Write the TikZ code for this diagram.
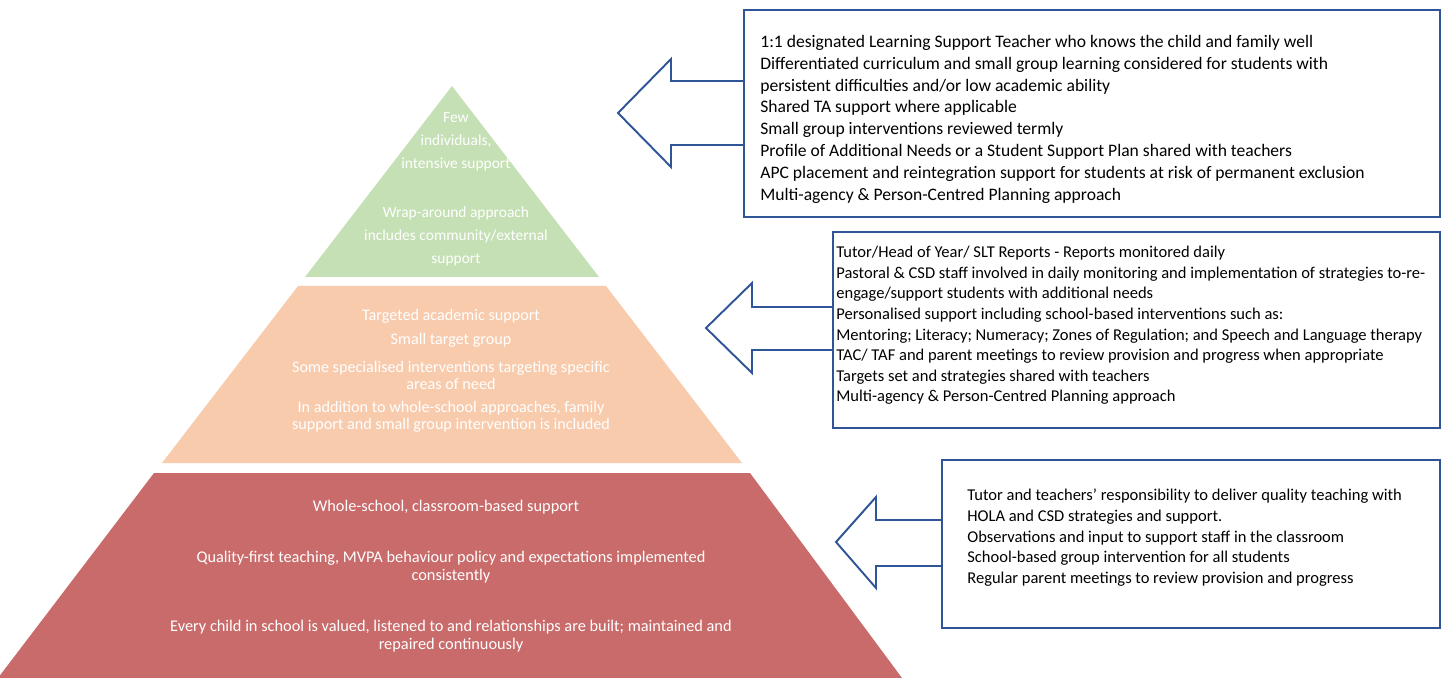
\documentclass[tikz,border=0pt]{standalone}
\usepackage{fontspec}
\setmainfont{Carlito}
\definecolor{tipgreen}{HTML}{C5E0B4}
\definecolor{midpeach}{HTML}{F8CBAD}
\definecolor{baserose}{HTML}{C96B6A}
\definecolor{calloutblue}{HTML}{2F5597}
% layer corners (pixel units, y down)
\newcommand{\apex}[0]{(452, 86)}
\newcommand{\tipl}[0]{(305, 277)}
\newcommand{\tipr}[0]{(599, 277)}
\newcommand{\midul}[0]{(298, 286)}
\newcommand{\midur}[0]{(606, 286)}
\newcommand{\midll}[0]{(162, 463)}
\newcommand{\midlr}[0]{(742, 463)}
\newcommand{\baseul}[0]{(154, 473)}
\newcommand{\baseur}[0]{(750, 473)}
\newcommand{\basell}[0]{(-2, 678)}
\newcommand{\baselr}[0]{(902, 678)}
\tikzset{
  layertext/.style={text=white, align=center, inner sep=0pt},
  boxtext/.style={align=left, anchor=north west, inner sep=0pt},
  callout/.style={draw=calloutblue, line width=1.1pt, line join=miter},
}

\begin{document}
\begin{tikzpicture}[x=0.02cm, y=-0.02cm]
\useasboundingbox (0,0) rectangle (1446,678);
% pyramid
\fill [tipgreen] \apex{} -- \tipr{} -- \tipl{} -- cycle;
\fill [midpeach] \midul{} -- \midur{} -- \midlr{} -- \midll{} -- cycle;
\fill [baserose] \baseul{} -- \baseur{} -- \baselr{} -- \basell{} -- cycle;

\node [layertext, font=\fontsize{8.8}{13.1}\selectfont] (few) at (456,142) {Few\\individuals,\\intensive support};
\node [layertext, font=\fontsize{8.8}{13.1}\selectfont] (wrap) at (456,236) {Wrap-around approach\\includes community/external\\support};

\node [layertext, font=\fontsize{9.2}{9.7}\selectfont] (targeted) at (451,316) {Targeted academic support};
\node [layertext, font=\fontsize{9.2}{9.7}\selectfont] (small) at (451,340) {Small target group};
\node [layertext, font=\fontsize{9.2}{9.7}\selectfont] (special) at (451,375) {Some specialised interventions targeting specific\\areas of need};
\node [layertext, font=\fontsize{9.2}{9.7}\selectfont] (addition) at (451,417) {In addition to whole-school approaches, family\\support and small group intervention is included};

\node [layertext, font=\fontsize{9.3}{10.2}\selectfont] (whole) at (446,507) {Whole-school, classroom-based support};
\node [layertext, font=\fontsize{9.3}{10.2}\selectfont] (quality) at (451,567) {Quality-first teaching, MVPA behaviour policy and expectations implemented\\consistently};
\node [layertext, font=\fontsize{9.3}{10.2}\selectfont] (every) at (451,636) {Every child in school is valued, listened to and relationships are built; maintained and\\repaired continuously};

% callouts
\draw [callout] (744,10) rectangle (1440,217);
\draw [callout] (744,81) -- (671,81) -- (671,59) -- (618,113) -- (671,167) -- (671,145) -- (744,145);
\node [boxtext, font=\fontsize{10}{12.4}\selectfont] (tiertop) at (760,35) {1:1 designated Learning Support Teacher who knows the child and family well\\
Differentiated curriculum and small group learning considered for students with\\
persistent difficulties and/or low academic ability\\
Shared TA support where applicable\\
Small group interventions reviewed termly\\
Profile of Additional Needs or a Student Support Plan shared with teachers\\
APC placement and reintegration support for students at risk of permanent exclusion\\
Multi-agency \& Person-Centred Planning approach};

\draw [callout] (833,232) rectangle (1440,428);
\draw [callout] (833,307) -- (752,307) -- (752,283) -- (706,328) -- (752,373) -- (752,350) -- (833,350);
\node [boxtext, font=\fontsize{9.4}{11.7}\selectfont] (tiermid) at (836,246) {Tutor/Head of Year/ SLT Reports - Reports monitored daily\\
Pastoral \& CSD staff involved in daily monitoring and implementation of strategies to-re-\\
engage/support students with additional needs\\
Personalised support including school-based interventions such as:\\
Mentoring; Literacy; Numeracy; Zones of Regulation; and Speech and Language therapy\\
TAC/ TAF and parent meetings to review provision and progress when appropriate\\
Targets set and strategies shared with teachers\\
Multi-agency \& Person-Centred Planning approach};

\draw [callout] (942,460) rectangle (1440,628);
\draw [callout] (942,520) -- (876,520) -- (876,497) -- (836,542) -- (876,588) -- (876,566) -- (942,566);
\node [boxtext, font=\fontsize{9.4}{11.7}\selectfont] (tierbase) at (967,489) {Tutor and teachers’ responsibility to deliver quality teaching with\\
HOLA and CSD strategies and support.\\
Observations and input to support staff in the classroom\\
School-based group intervention for all students\\
Regular parent meetings to review provision and progress};
\end{tikzpicture}
\end{document}
